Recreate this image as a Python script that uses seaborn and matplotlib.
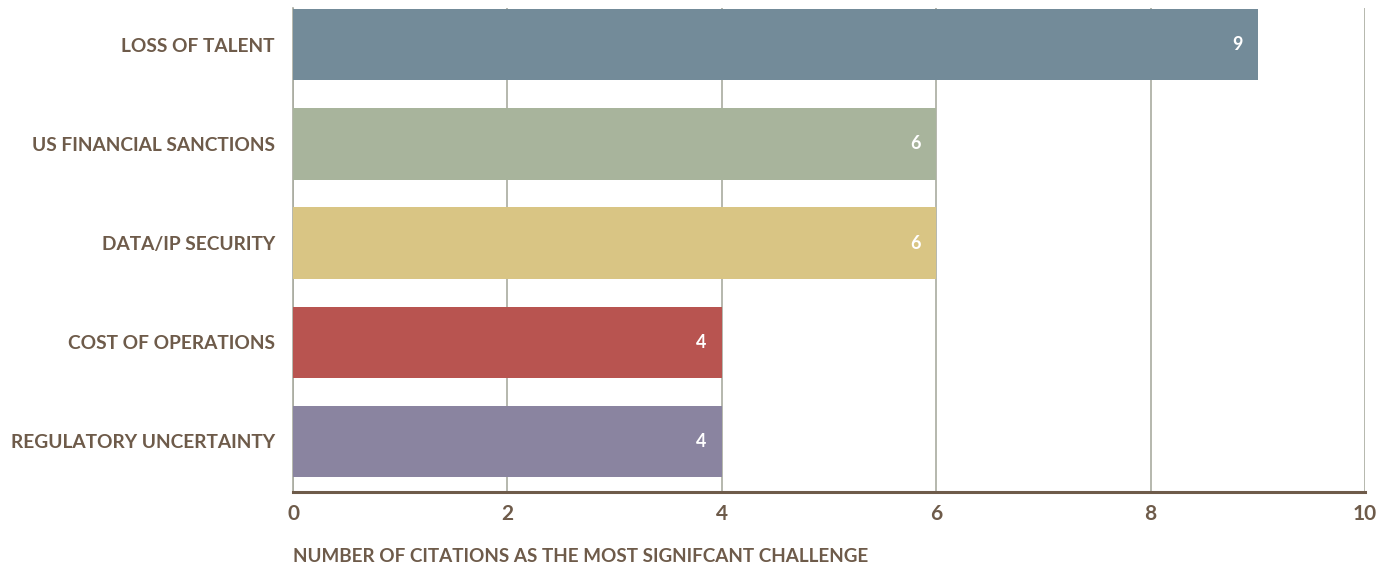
import matplotlib
matplotlib.use("Agg")
import matplotlib.pyplot as plt
import seaborn as sns
import pandas as pd

categories = ["LOSS OF TALENT", "US FINANCIAL SANCTIONS", "DATA/IP SECURITY",
              "COST OF OPERATIONS", "REGULATORY UNCERTAINTY"]
values = [9, 6, 6, 4, 4]
colors = ["#738b99", "#a8b49c", "#d9c584", "#b85450", "#8a84a0"]
xticks = [0, 2, 4, 6, 8, 10]
xlabel = "NUMBER OF CITATIONS AS THE MOST SIGNIFCANT CHALLENGE"

TEXT = "#6e5b4a"
GRID = "#a9aba0"

sns.set_style("white")
plt.rcParams['font.family'] = ['Lato', 'DejaVu Sans']

df = pd.DataFrame({"category": categories, "value": values})

fig = plt.figure(figsize=(13.81, 5.65), dpi=100)
ax = fig.add_axes([293/1381, 1-492/565, (1365-293)/1381, (492-8)/565])

sns.barplot(data=df, y="category", x="value", hue="category", palette=colors,
            order=categories, hue_order=categories, orient="h", width=0.72,
            legend=False, ax=ax, saturation=1, zorder=3, linewidth=0)

ax.set_xlim(0, 10)
ax.set_ylim(4.51, -0.37)
ax.set_xticks(xticks)
ax.set_xticklabels([str(t) for t in xticks], fontsize=15, fontweight="bold", color=TEXT)
ax.tick_params(axis="x", length=0, pad=9)
ax.tick_params(axis="y", length=0, pad=13)
for lab in ax.get_yticklabels():
    lab.set_fontsize(13.8)
    lab.set_fontweight("bold")
    lab.set_color(TEXT)

ax.set_ylabel("")
ax.set_xlabel(xlabel, fontsize=13.6, fontweight="bold", color=TEXT, loc="left", labelpad=17)

ax.grid(axis="x", color=GRID, linewidth=1.2, zorder=0)
ax.set_axisbelow(True)
for s in ["top", "right"]:
    ax.spines[s].set_visible(False)
ax.spines["left"].set_color(GRID)
ax.spines["left"].set_linewidth(1.2)
ax.spines["bottom"].set_color(TEXT)
ax.spines["bottom"].set_linewidth(2.2)

for i, v in enumerate(values):
    ax.text(v - 0.14, i, str(v), ha="right", va="center", color="white",
            fontsize=13, fontweight="bold", zorder=5)

fig.savefig("out.png", dpi=100)
